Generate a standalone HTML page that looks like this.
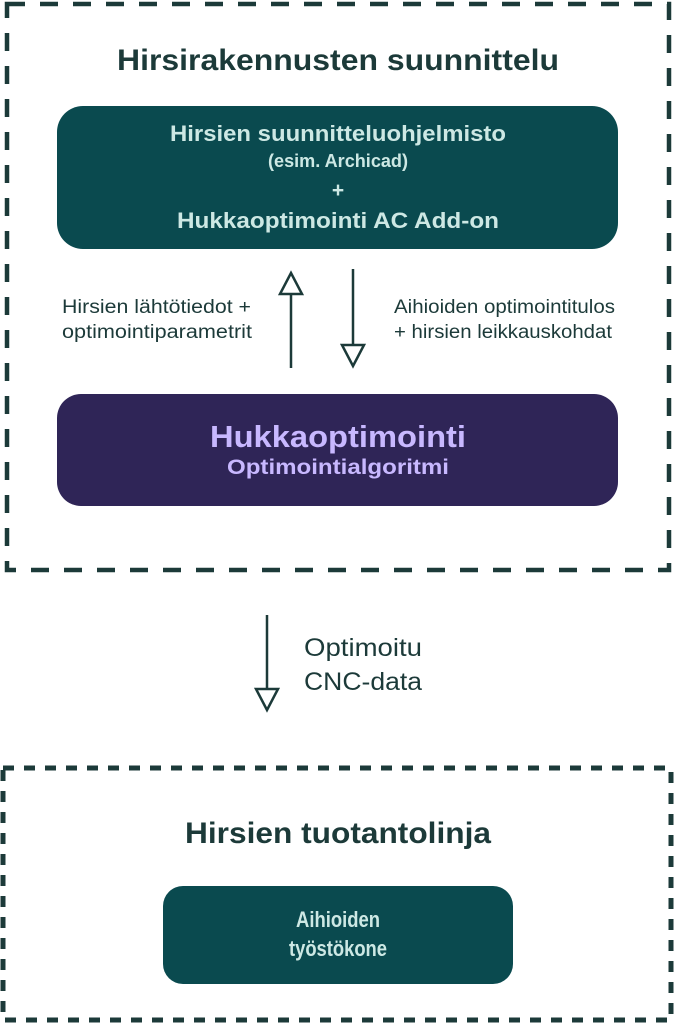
<!DOCTYPE html>
<html><head><meta charset="utf-8"><style>html,body{margin:0;padding:0;background:#fff}svg{display:block}</style></head>
<body>
<svg width="676" height="1024" viewBox="0 0 676 1024" xmlns="http://www.w3.org/2000/svg" font-family="Liberation Sans, sans-serif">
<rect x="7" y="4" width="662" height="566" fill="none" stroke="#1c3a39" stroke-width="4.5" stroke-dasharray="18 15"/>
<rect x="3" y="768" width="668" height="252" fill="none" stroke="#1c3a39" stroke-width="5" stroke-dasharray="11 10"/>
<text x="338" y="70" text-anchor="middle" font-size="30" font-weight="bold" fill="#1c3a39" textLength="442" lengthAdjust="spacingAndGlyphs">Hirsirakennusten suunnittelu</text>
<rect x="57" y="106" width="561" height="143" rx="26" fill="#0a4a4f"/>
<g fill="#cde8e4" font-weight="bold" text-anchor="middle">
<text x="338" y="141" font-size="22" textLength="336" lengthAdjust="spacingAndGlyphs">Hirsien suunnitteluohjelmisto</text>
<text x="338" y="167" font-size="18" textLength="140" lengthAdjust="spacingAndGlyphs">(esim. Archicad)</text>
<text x="338" y="197" font-size="21">+</text>
<text x="338" y="228" font-size="22" textLength="322" lengthAdjust="spacingAndGlyphs">Hukkaoptimointi AC Add-on</text>
</g>
<g stroke="#1c3a39" stroke-width="2.5" fill="#fff">
<line x1="291" y1="368" x2="291" y2="292"/>
<polygon points="291,273 302,294 280,294"/>
<line x1="353" y1="269" x2="353" y2="346"/>
<polygon points="353,366 342,345 364,345"/>
<line x1="267" y1="615" x2="267" y2="690"/>
<polygon points="267,710 256,689 278,689"/>
</g>
<g fill="#1c3a39" font-size="19">
<text x="62" y="313" textLength="189" lengthAdjust="spacingAndGlyphs">Hirsien lähtötiedot +</text>
<text x="62" y="338" textLength="190" lengthAdjust="spacingAndGlyphs">optimointiparametrit</text>
<text x="394" y="313" textLength="221" lengthAdjust="spacingAndGlyphs">Aihioiden optimointitulos</text>
<text x="394" y="338" textLength="218" lengthAdjust="spacingAndGlyphs">+ hirsien leikkauskohdat</text>
<text x="304" y="656" font-size="25" textLength="118" lengthAdjust="spacingAndGlyphs">Optimoitu</text>
<text x="304" y="690" font-size="25" textLength="118" lengthAdjust="spacingAndGlyphs">CNC-data</text>
</g>
<rect x="57" y="394" width="561" height="112" rx="24" fill="#2f2557"/>
<text x="338" y="447" text-anchor="middle" font-size="31" font-weight="bold" fill="#c8b8ff" textLength="256" lengthAdjust="spacingAndGlyphs">Hukkaoptimointi</text>
<text x="338" y="474" text-anchor="middle" font-size="21" font-weight="bold" fill="#c8b8ff" textLength="222" lengthAdjust="spacingAndGlyphs">Optimointialgoritmi</text>
<text x="338" y="843" text-anchor="middle" font-size="30" font-weight="bold" fill="#1c3a39" textLength="306" lengthAdjust="spacingAndGlyphs">Hirsien tuotantolinja</text>
<rect x="163" y="886" width="350" height="98" rx="20" fill="#0a4a4f"/>
<text x="338" y="927" text-anchor="middle" font-size="22" font-weight="bold" fill="#cde8e4" textLength="84" lengthAdjust="spacingAndGlyphs">Aihioiden</text>
<text x="338" y="956" text-anchor="middle" font-size="22" font-weight="bold" fill="#cde8e4" textLength="98" lengthAdjust="spacingAndGlyphs">työstökone</text>
</svg>
</body></html>
